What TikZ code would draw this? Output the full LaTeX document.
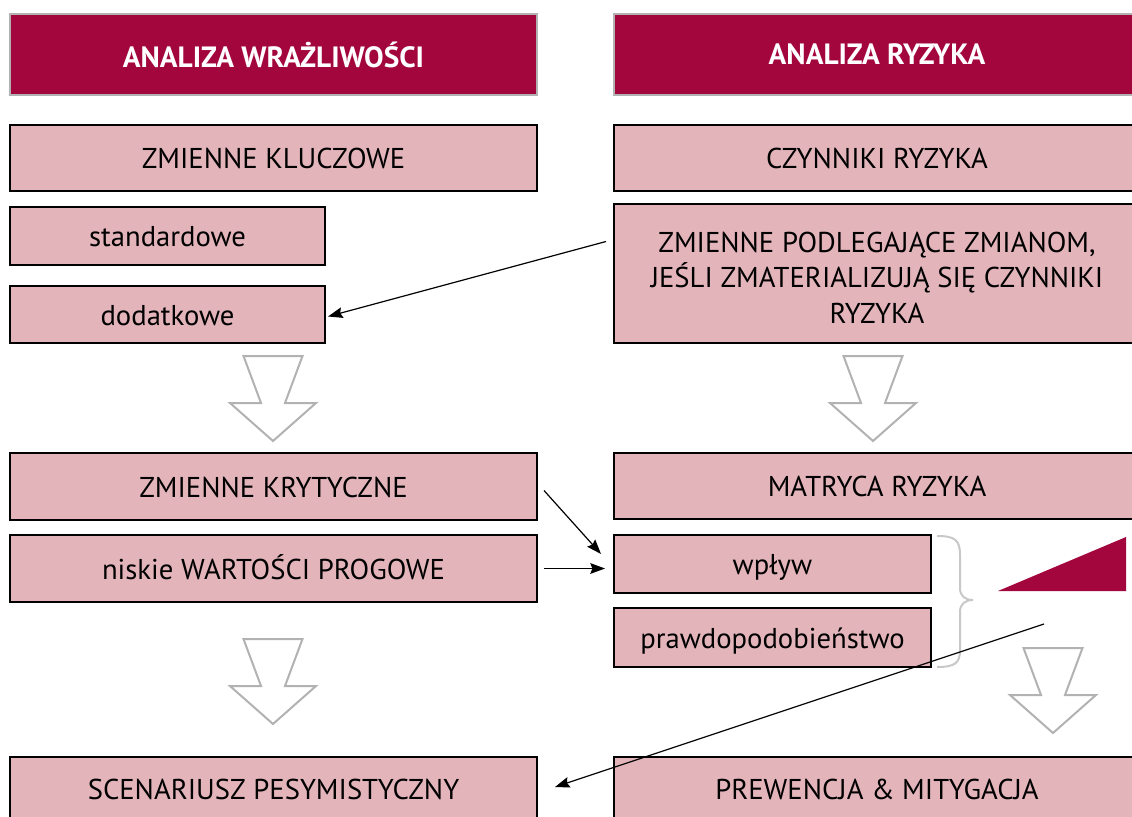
\documentclass[tikz,border=0pt]{standalone}
\usepackage{fontspec}
\setmainfont{PT Sans}
\usetikzlibrary{arrows.meta,calc}
\definecolor{wine}{RGB}{163,6,61}
\definecolor{rose}{RGB}{227,181,187}
\definecolor{framegray}{RGB}{178,178,178}
\definecolor{bracegray}{RGB}{200,200,200}
\begin{document}
\begin{tikzpicture}[x=0.75pt,y=-0.75pt,
  dims/.style 2 args={minimum width=#1*0.75pt, minimum height=#2*0.75pt},
  head/.style={draw=framegray, line width=1.5pt, fill=wine, inner sep=0pt,
    text=white, font=\fontsize{22}{26}\selectfont\bfseries},
  boxbase/.style={draw=black, line width=1.5pt, fill=rose, inner sep=0pt,
    align=center, font=\fontsize{21.5}{26.5}\selectfont},
  box/.style={boxbase, text height=19.5pt, text depth=3.5pt},
  tallbox/.style={boxbase},
  conn/.style={draw=black, line width=0.9pt,
    -{Stealth[length=11pt,width=8pt,inset=1.5pt]}},
  downarrow/.pic={
    \draw[draw=framegray, line width=1.5pt, fill=white, line join=miter]
      (-29.5,0) -- (29.5,0) -- (12,47) -- (43,47) -- (0,85)
      -- (-43,47) -- (-12,47) -- cycle;}
]
\useasboundingbox (0,0) rectangle (1132,817);
\clip (0,0) rectangle (1132,817);

% column headers
\node[head, dims={527}{81}] (hL) at (273.5,54.5) {ANALIZA WRAŻLIWOŚCI};
\node[head, dims={526}{81}] (hR) at (877,54.5)   {ANALIZA RYZYKA};

% sensitivity analysis column
\node[box, dims={527}{66}] (kz)   at (273.5,158)   {ZMIENNE KLUCZOWE};
\node[box, dims={315}{58}] (std)  at (167.5,236)   {standardowe};
\node[box, dims={315}{57}] (dod)  at (167.5,314.5) {dodatkowe};
\node[box, dims={527}{67}] (kryt) at (273.5,486.5) {ZMIENNE KRYTYCZNE};
\node[box, dims={527}{67}] (nis)  at (273.5,568.5) {niskie WARTOŚCI PROGOWE};
\node[box, dims={527}{64}] (sc)   at (273.5,789)   {SCENARIUSZ PESYMISTYCZNY};

% risk analysis column
\node[box, dims={526}{66}]  (cz)  at (877,158)   {CZYNNIKI RYZYKA};
\node[tallbox, dims={526}{139}] (zp)  at (877,273.5)
  {\rule{0pt}{21.5pt}ZMIENNE PODLEGAJĄCE ZMIANOM,\\JEŚLI ZMATERIALIZUJĄ SIĘ CZYNNIKI\\RYZYKA};
\node[box, dims={526}{66}]  (mat) at (877,486)   {MATRYCA RYZYKA};
\node[box, dims={317}{58}]  (wp)  at (772.5,564) {wpływ};
\node[box, dims={317}{59}]  (pr)  at (772.5,637.5) {prawdopodobieństwo};
\node[box, dims={526}{64}]  (pm)  at (877,789)   {PREWENCJA \& MITYGACJA};

% hollow flow arrows
\pic at (273,356)  {downarrow};
\pic at (273,639)  {downarrow};
\pic at (873,356)  {downarrow};
\pic at (1053,648) {downarrow};

% brace grouping impact and probability
\draw[bracegray, line width=1.5pt]
  (937,536) .. controls (955,536) and (960,540) .. (960,555) -- (960,588)
  .. controls (960,596) and (965,600) .. (973,600)
  .. controls (965,600) and (960,604) .. (960,612) -- (960,650)
  .. controls (960,663) and (955,667) .. (937,667);

% rising wedge
\fill[wine] (998,591) -- (1126,537) -- (1126,591) -- cycle;

% connectors
\coordinate (riskend) at (1044,624);
\draw[conn] ($(zp.west)+(-7,-32)$) -- ($(dod.east)+(2,2)$);
\draw[conn] ($(kryt.east)+(6,4)$) -- ($(wp.west)+(-12,-10)$);
\draw[conn] ($(nis.east)+(6,0)$) -- ($(nis.east -| wp.west)+(-8,0)$);
\draw[conn] (riskend) -- ($(sc.east)+(17,-2)$);
\end{tikzpicture}
\end{document}
